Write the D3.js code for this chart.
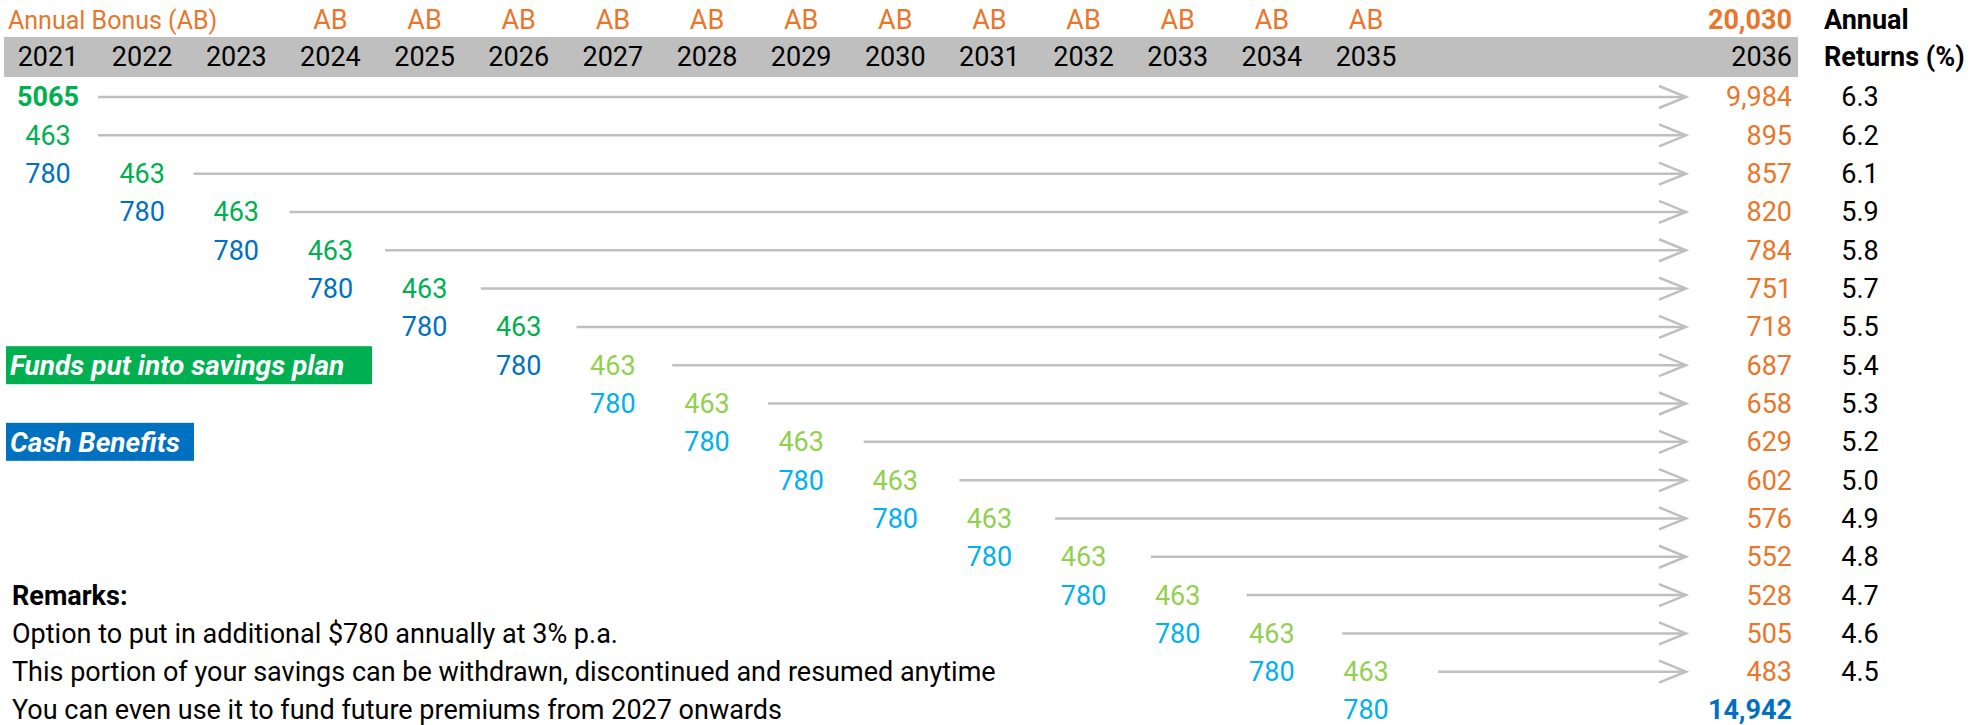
<!DOCTYPE html>
<html>
<head>
<meta charset="utf-8">
<script src="https://cdn.jsdelivr.net/npm/d3@7"></script>
<style>
  body { margin: 0; background: #fff; }
  text { font-family: "Roboto", "Lato", sans-serif; font-size: 27px; }
  .legend text { font-size: 28px; }
  text.bonus-title { font-size: 25px; }
</style>
</head>
<body>
<div id="chart"></div>
<script>
// chart values
var years = [2021, 2022, 2023, 2024, 2025, 2026, 2027, 2028, 2029, 2030, 2031, 2032, 2033, 2034, 2035];
var maturityYear = 2036
var bonusYears = [2024, 2025, 2026, 2027, 2028, 2029, 2030, 2031, 2032, 2033, 2034, 2035];
var initialDeposit = 5065
var savingsAmount = 463
var cashAmount = 780
// year of the 463 in rows 1..15, and of the 780 in rows 2..16
var savingsYears = [2021, 2022, 2023, 2024, 2025, 2026, 2027, 2028, 2029, 2030, 2031, 2032, 2033, 2034, 2035];
var cashYears = [2021, 2022, 2023, 2024, 2025, 2026, 2027, 2028, 2029, 2030, 2031, 2032, 2033, 2034, 2035];
// each arrow starts after the last amount in its row
var arrowYears = [2021, 2021, 2022, 2023, 2024, 2025, 2026, 2027, 2028, 2029, 2030, 2031, 2032, 2033, 2034, 2035];
var maturityValues = [9984, 895, 857, 820, 784, 751, 718, 687, 658, 629, 602, 576, 552, 528, 505, 483];
var annualReturns = [6.3, 6.2, 6.1, 5.9, 5.8, 5.7, 5.5, 5.4, 5.3, 5.2, 5.0, 4.9, 4.8, 4.7, 4.6, 4.5];
var totalMaturity = 20030
var totalCash = 14942
var switchYear = 2027
var remarks = ["Option to put in additional $780 annually at 3% p.a.",
  "This portion of your savings can be withdrawn, discontinued and resumed anytime",
  "You can even use it to fund future premiums from 2027 onwards"];

var width = 1986, height = 725;
var orange = "#E9762A", darkGreen = "#00B050", lightGreen = "#92D050",
    darkBlue = "#0070C0", lightBlue = "#00B0F0", grey = "#BFBFBF";

var svg = d3.select("#chart").append("svg")
  .attr("width", width)
  .attr("height", height);

var x = d3.scaleLinear().domain([2021, 2035]).range([48, 1366]);
var arrowX = d3.scaleLinear().domain([2021, 2035]).range([98, 1438]);
var y = d3.scaleLinear().domain([0, 16]).range([97, 710]);
var rightEdge = 1792, arrowTip = 1686, returnsX = 1860;
var fmt = d3.format(",");

function savingsColour(yr){ return yr < switchYear ? darkGreen : lightGreen }
function cashColour(yr){ return yr < switchYear ? darkBlue : lightBlue }

// header band
svg.append("rect")
  .attr("x", 4).attr("y", 37)
  .attr("width", rightEdge + 6 - 4).attr("height", 40)
  .attr("fill", grey);

svg.selectAll(".year")
  .data(years)
  .enter().append("text")
  .attr("class", "year")
  .attr("x", function(d){ return x(d) })
  .attr("y", 57)
  .attr("dy", "0.35em")
  .attr("text-anchor", "middle")
  .attr("fill", "#000")
  .text(function(d){ return d });

svg.append("text")
  .attr("x", rightEdge).attr("y", 57).attr("dy", "0.35em")
  .attr("text-anchor", "end")
  .text(maturityYear);

// annual bonus row
svg.append("text")
  .attr("class", "bonus-title")
  .attr("x", 8).attr("y", 20).attr("dy", "0.35em")
  .attr("fill", orange)
  .text("Annual Bonus (AB)");

svg.selectAll(".ab")
  .data(bonusYears)
  .enter().append("text")
  .attr("class", "ab")
  .attr("x", function(d){ return x(d) })
  .attr("y", 20).attr("dy", "0.35em")
  .attr("text-anchor", "middle")
  .attr("fill", orange)
  .text("AB");

svg.append("text")
  .attr("x", rightEdge).attr("y", 20).attr("dy", "0.35em")
  .attr("text-anchor", "end")
  .attr("fill", orange)
  .style("font-weight", "bold")
  .text(fmt(totalMaturity));

svg.append("text")
  .attr("x", 1824).attr("y", 20).attr("dy", "0.35em")
  .style("font-weight", "bold")
  .text("Annual");
svg.append("text")
  .attr("x", 1824).attr("y", 57).attr("dy", "0.35em")
  .style("font-weight", "bold")
  .text("Returns (%)");

// arrows
var arrows = svg.selectAll(".arrow")
  .data(arrowYears)
  .enter().append("g")
  .attr("class", "arrow")
  .attr("fill", "none")
  .attr("stroke", grey)
  .attr("stroke-width", 2.5);

arrows.append("line")
  .attr("x1", function(d){ return arrowX(d) })
  .attr("x2", arrowTip)
  .attr("y1", function(d, i){ return y(i) })
  .attr("y2", function(d, i){ return y(i) });

arrows.append("path")
  .attr("d", function(d, i){
    var yy = y(i)
    return "M" + (arrowTip - 27) + "," + (yy - 11) + "L" + arrowTip + "," + yy + "L" + (arrowTip - 27) + "," + (yy + 11)
  });

// amounts
svg.append("text")
  .attr("x", x(2021)).attr("y", y(0)).attr("dy", "0.35em")
  .attr("text-anchor", "middle")
  .attr("fill", darkGreen)
  .style("font-weight", "bold")
  .text(initialDeposit);

svg.selectAll(".saving")
  .data(savingsYears)
  .enter().append("text")
  .attr("class", "saving")
  .attr("x", function(d){ return x(d) })
  .attr("y", function(d, i){ return y(i + 1) })
  .attr("dy", "0.35em")
  .attr("text-anchor", "middle")
  .attr("fill", savingsColour)
  .text(savingsAmount);

svg.selectAll(".cash")
  .data(cashYears)
  .enter().append("text")
  .attr("class", "cash")
  .attr("x", function(d){ return x(d) })
  .attr("y", function(d, i){ return y(i + 2) })
  .attr("dy", "0.35em")
  .attr("text-anchor", "middle")
  .attr("fill", cashColour)
  .text(cashAmount);

svg.selectAll(".maturity")
  .data(maturityValues)
  .enter().append("text")
  .attr("class", "maturity")
  .attr("x", rightEdge)
  .attr("y", function(d, i){ return y(i) })
  .attr("dy", "0.35em")
  .attr("text-anchor", "end")
  .attr("fill", orange)
  .text(function(d){ return fmt(d) });

svg.selectAll(".ret")
  .data(annualReturns)
  .enter().append("text")
  .attr("class", "ret")
  .attr("x", returnsX)
  .attr("y", function(d, i){ return y(i) })
  .attr("dy", "0.35em")
  .attr("text-anchor", "middle")
  .text(function(d){ return d.toFixed(1) });

svg.append("text")
  .attr("x", rightEdge).attr("y", y(16)).attr("dy", "0.35em")
  .attr("text-anchor", "end")
  .attr("fill", darkBlue)
  .style("font-weight", "bold")
  .text(fmt(totalCash));

// legend boxes
var legend = [
  {label: "Funds put into savings plan", colour: darkGreen, row: 7, w: 366},
  {label: "Cash Benefits", colour: darkBlue, row: 9, w: 188}
];
var lg = svg.selectAll(".legend")
  .data(legend)
  .enter().append("g")
  .attr("class", "legend");
lg.append("rect")
  .attr("x", 6)
  .attr("y", function(d){ return y(d.row) - 19 })
  .attr("width", function(d){ return d.w })
  .attr("height", 38)
  .attr("fill", function(d){ return d.colour });
lg.append("text")
  .attr("x", 10)
  .attr("y", function(d){ return y(d.row) })
  .attr("dy", "0.35em")
  .attr("fill", "#fff")
  .style("font-weight", "bold")
  .style("font-style", "italic")
  .text(function(d){ return d.label });

// remarks
svg.append("text")
  .attr("x", 12).attr("y", y(13)).attr("dy", "0.35em")
  .style("font-weight", "bold")
  .text("Remarks:");

svg.selectAll(".remark")
  .data(remarks)
  .enter().append("text")
  .attr("class", "remark")
  .attr("x", 12)
  .attr("y", function(d, i){ return y(14 + i) })
  .attr("dy", "0.35em")
  .text(function(d){ return d });
</script>
</body>
</html>
